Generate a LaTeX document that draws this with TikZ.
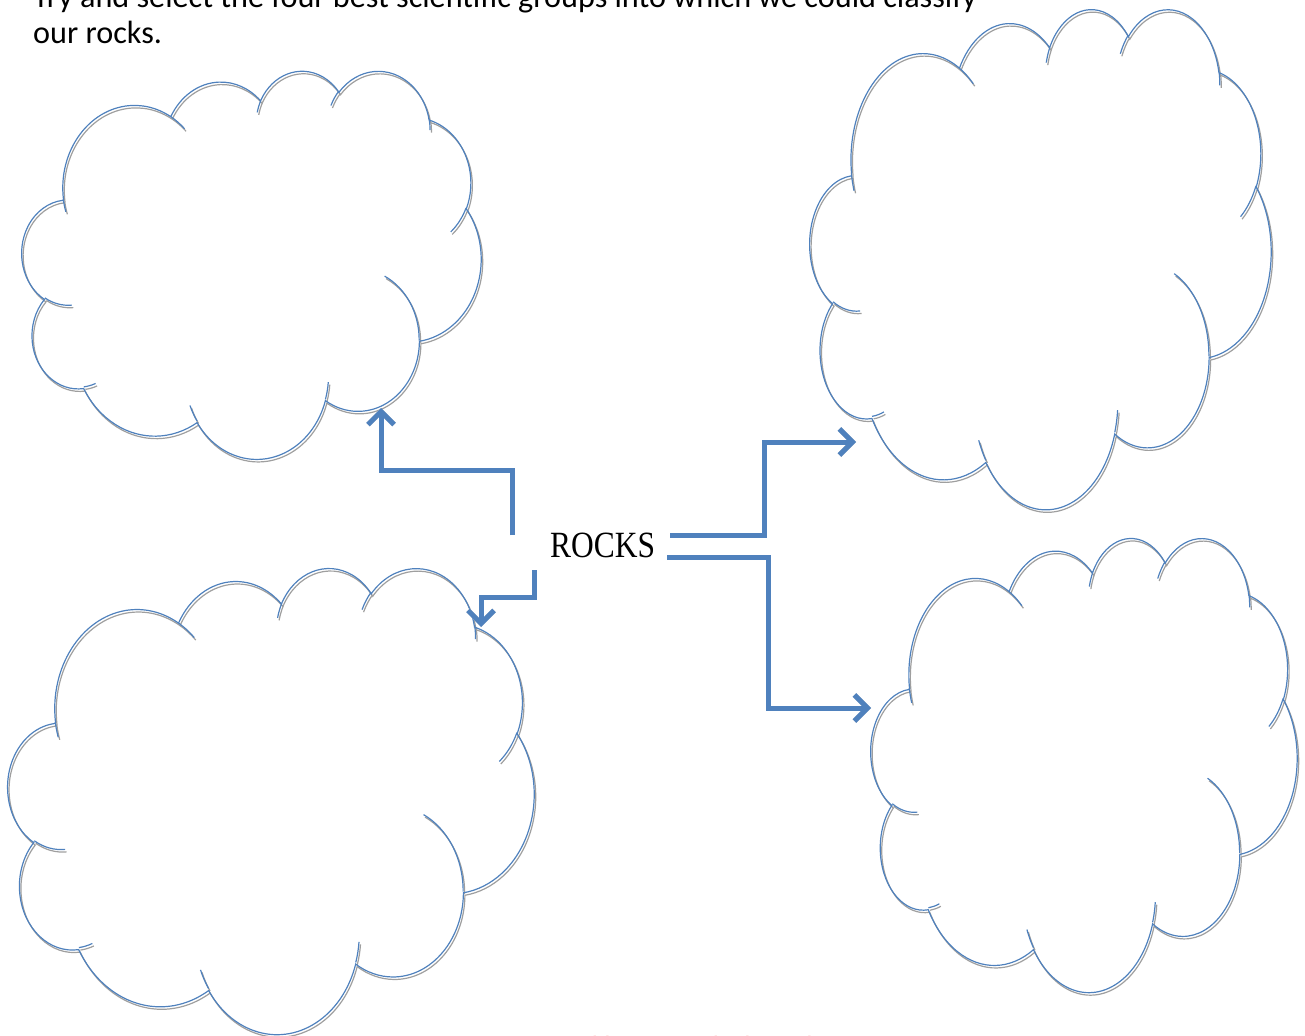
\documentclass[tikz,border=0pt]{standalone}
\usepackage{fontspec}
\setmainfont{Carlito}
\newfontfamily\rocksfont[FakeStretch=0.85]{Liberation Serif}
\usetikzlibrary{arrows.meta}

\definecolor{cloudblue}{HTML}{4F81BD}
\definecolor{linkblue}{HTML}{4F81BD}

\tikzset{
  cloud arc/.code args={#1/#2/#3/#4}{%
    \pgfmathsetmacro\cas{atan2((#1)*sin(#3),(#2)*cos(#3))}%
    \pgfmathsetmacro\cas{\cas+360*round(((#3)-\cas)/360)}%
    \pgfmathsetmacro\cae{atan2((#1)*sin((#3)+(#4)),(#2)*cos((#3)+(#4)))}%
    \pgfmathsetmacro\cae{\cae+360*round(((#3)+(#4)-\cae)/360)}%
    \edef\casetup{\noexpand\tikzset{x radius=#1,y radius=#2,start angle=\cas,end angle=\cae}}%
    \casetup
  },
  cloudline/.style={draw=cloudblue, line width=1.2pt},
  cloudshadow/.style={draw=gray!75, line width=1.2pt, xshift=1.5pt, yshift=-2.5pt},
  linkline/.style={draw=linkblue, line width=5pt, -{Straight Barb[length=13pt,width=26pt]}},
  linkshadow/.style={draw=gray!35, line width=5pt, xshift=2pt, yshift=-3pt, -{Straight Barb[length=13pt,width=26pt]}},
}

% one cloud outline in a 432 x 432 box
\newcommand{\cloudpath}[1]{%
  \draw[#1] (39.00,143.70)
    arc[cloud arc=67.53/91.90/-190.4875/123.7805]
    arc[cloud arc=53.33/72.67/-144.1024/89.9452]
    arc[cloud arc=43.65/59.45/-145.8079/99.7230]
    arc[cloud arc=48.57/65.95/-130.9861/117.2417]
    arc[cloud arc=53.33/72.73/-78.7089/109.0269]
    arc[cloud arc=67.75/92.20/-46.2673/130.2690]
    arc[cloud arc=57.85/78.67/0.6250/114.0333]
    arc[cloud arc=67.52/92.15/22.4516/115.1726]
    arc[cloud arc=77.20/105.43/66.2426/75.7110]
    arc[cloud arc=43.60/59.18/-274.9421/146.7356]
    arc[cloud arc=43.45/59.45/-246.8285/152.5189] -- cycle
    (46.93,261.77) arc[cloud arc=43.45/59.45/86.7420/26.4295]
    (69.28,348.99) arc[cloud arc=43.60/59.18/73.6105/11.4475]
    (164.78,390.90) arc[cloud arc=67.52/92.15/137.6242/14.0811]
    (288.27,347.51) arc[cloud arc=67.52/92.15/6.4533/15.9984]
    (341.29,229.54) arc[cloud arc=57.85/78.67/-70.2924/70.9174]
    (417.98,153.54) arc[cloud arc=53.33/72.73/30.3180/27.7515]
    (383.24,54.26) arc[cloud arc=48.57/65.95/-13.7443/14.8589]
    (290.78,39.52) arc[cloud arc=48.57/65.95/-149.1815/18.1954]
    (221.41,47.20) arc[cloud arc=43.65/59.45/-163.4943/17.6864]
    (140.00,51.92) arc[cloud arc=67.53/91.90/-66.7070/12.3194]
    (41.27,157.89) arc[cloud arc=67.53/91.90/156.6249/11.8523];
}
% name, left, top, width, height
\newcommand{\rockcloud}[5]{%
  \pgfmathsetmacro\cwx{#4/432}%
  \pgfmathsetmacro\cwy{#5/432}%
  \begin{scope}[shift={(#2,#3)}, x=\cwx pt, y=-\cwy pt]
    \cloudpath{cloudshadow}
    \cloudpath{cloudline}
    \coordinate (#1) at (216,216);
  \end{scope}
}

\begin{document}
\begin{tikzpicture}[x=1pt, y=-1pt]
  \useasboundingbox (0,0) rectangle (1305,1035);
  \clip (0,0) rectangle (1305,1035);

  % clouds
  \rockcloud{cloud1}{22}{70}{459}{388}
  \rockcloud{cloud2}{810}{8}{461}{500}
  \rockcloud{cloud3}{8}{567}{526}{466}
  \rockcloud{cloud4}{871}{537}{426}{454}

  % texts
  \node [anchor=base west, align=left, inner sep=0,
         font=\fontsize{32.2}{36}\selectfont] (task) at (33,44)
        {Try and select the four best scientific groups into which we could classify\\our rocks.};
  \node [anchor=base west, inner sep=0,
         font=\rocksfont\fontsize{37}{40}\selectfont] (rocks) at (550,557) {ROCKS};
  \node [anchor=base west, inner sep=0, text=red,
         font=\fontsize{27.5}{30}\selectfont] (credit) at (388,1055)
        {Activities prepared by J Woodside and ESTA};

  % connector points
  \coordinate (A0) at (512,535);
  \coordinate (A1) at (512,470);
  \coordinate (A2) at (381,470);
  \coordinate (A3) at (381,408);

  \coordinate (B0) at (534,570);
  \coordinate (B1) at (534,597);
  \coordinate (B2) at (481,597);
  \coordinate (B3) at (481,627);

  \coordinate (C0) at (670,535);
  \coordinate (C1) at (764,535);
  \coordinate (C2) at (764,442);
  \coordinate (C3) at (856,442);

  \coordinate (D0) at (667,557);
  \coordinate (D1) at (768,557);
  \coordinate (D2) at (768,708);
  \coordinate (D3) at (871,708);

  \foreach \p in {A,B,C,D} {
    \draw [linkshadow] (\p0) -- (\p1) -- (\p2) -- (\p3);
    \draw [linkline] (\p0) -- (\p1) -- (\p2) -- (\p3);
  }
\end{tikzpicture}
\end{document}
